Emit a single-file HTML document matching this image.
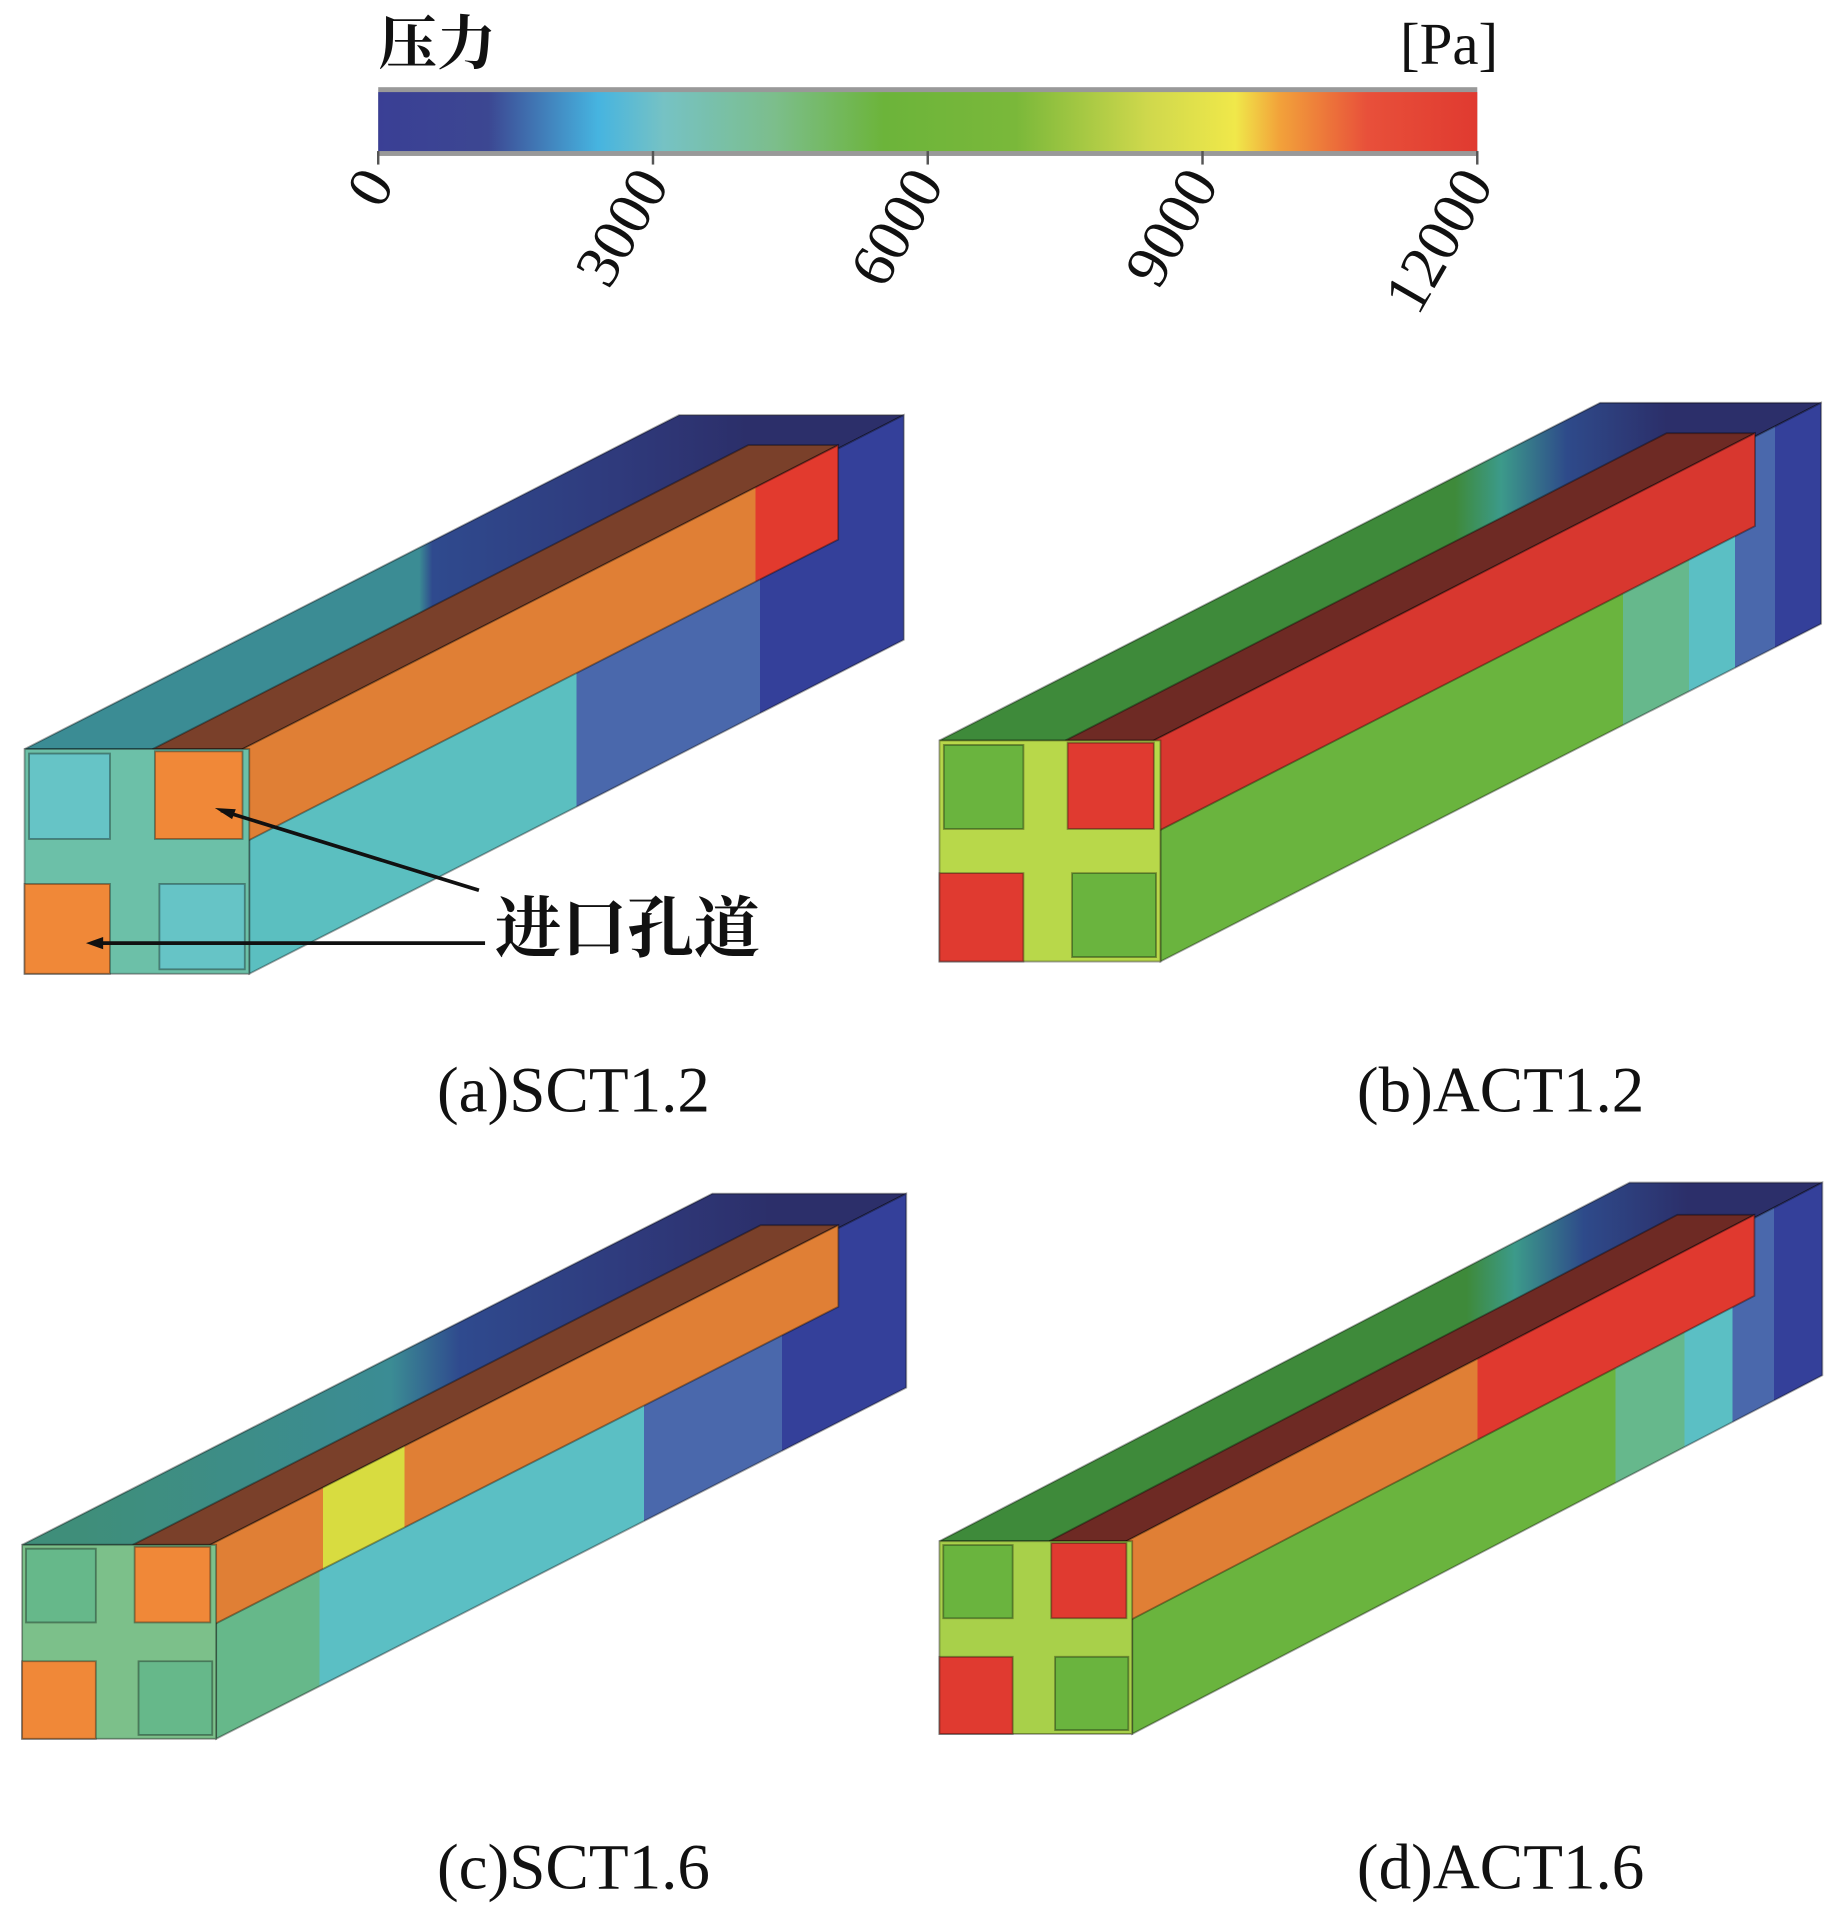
<!DOCTYPE html>
<html><head><meta charset="utf-8"><style>
html,body{margin:0;padding:0;background:#fff;}
svg{display:block;}
text{font-family:"Liberation Serif","Noto Serif CJK SC",serif;fill:#111;}
</style></head><body>
<svg id="fig" width="1842" height="1912" viewBox="0 0 1500 1557" preserveAspectRatio="none" xmlns="http://www.w3.org/2000/svg">
<defs>
<linearGradient id="cbar" x1="0" x2="1" y1="0" y2="0">
<stop offset="0" stop-color="#3a3f95"/><stop offset="0.1" stop-color="#3c4792"/>
<stop offset="0.2" stop-color="#46b4e0"/><stop offset="0.26" stop-color="#76c2c4"/>
<stop offset="0.36" stop-color="#7cbe8c"/><stop offset="0.46" stop-color="#6cb43a"/>
<stop offset="0.58" stop-color="#7ab83a"/><stop offset="0.7" stop-color="#cfd84c"/>
<stop offset="0.78" stop-color="#f0e84a"/><stop offset="0.82" stop-color="#f2a23a"/>
<stop offset="0.9" stop-color="#e8503a"/><stop offset="1" stop-color="#e03a30"/>
</linearGradient>
</defs>
<g id="colorbar">
<text x="308" y="52" font-size="48" font-weight="bold" font-family="Noto Serif CJK SC, serif">压力</text>
<text x="1220" y="52" font-size="48" text-anchor="end">[Pa]</text>
<rect x="308" y="71" width="895" height="56" fill="#999"/>
<rect x="308" y="75" width="895" height="48" fill="url(#cbar)"/>
</g>
<g id="ticks"></g>
<g id="panels"></g>
<g id="annot">
<line x1="390" y1="725" x2="180" y2="660" stroke="#111" stroke-width="3"/>
<polygon points="175,658 192,659 189,667" fill="#111"/>
<line x1="395" y1="768" x2="76" y2="768" stroke="#111" stroke-width="3"/>
<polygon points="70,768 84,763 84,773" fill="#111"/>
<text x="403" y="775" font-size="54" font-weight="bold" font-family="Noto Serif CJK SC, serif">进口孔道</text>
</g>
<text x="467" y="905" font-size="53" text-anchor="middle">(a)SCT1.2</text>
<text x="1222" y="905" font-size="53" text-anchor="middle">(b)ACT1.2</text>
<text x="467" y="1538" font-size="53" text-anchor="middle">(c)SCT1.6</text>
<text x="1222" y="1538" font-size="53" text-anchor="middle">(d)ACT1.6</text>
</svg>
<script>
const tickValues = [0, 3000, 6000, 9000, 12000];
const tickLabels = ["0", "3000", "6000", "9000", "12000"];
const cbMin = 0, cbMax = 12000;
const NS = "http://www.w3.org/2000/svg";
function cbX(v){ return 308 + (v - cbMin) / (cbMax - cbMin) * 895; }
const tg = document.getElementById('ticks');
tickValues.forEach((v,i)=>{
  const x = cbX(v);
  const l = document.createElementNS(NS,'line');
  
  
  l.setAttribute('x1',x); l.setAttribute('x2',x); l.setAttribute('y1',123); l.setAttribute('y2',134);
  l.setAttribute('stroke','#555'); l.setAttribute('stroke-width','2');
  tg.appendChild(l);
  const t = document.createElementNS(NS,'text');
  
  
  t.setAttribute('x',0); t.setAttribute('y',0);
  t.setAttribute('font-size','50'); t.setAttribute('text-anchor','end');
  t.setAttribute('transform','translate('+(x+14)+',150) rotate(-60)');
  t.textContent = tickLabels[i];
  tg.appendChild(t);
});
let gid = 0;
function grad(stops, xa, xb){
  const g = document.createElementNS(NS,'linearGradient');
  const id = 'g'+(gid++);
  g.setAttribute('id',id); g.setAttribute('gradientUnits','userSpaceOnUse');
  g.setAttribute('x1',xa); g.setAttribute('x2',xb); g.setAttribute('y1',0); g.setAttribute('y2',0);
  stops.forEach(s=>{const st=document.createElementNS(NS,'stop');st.setAttribute('offset',s[0]);st.setAttribute('stop-color',s[1]);g.appendChild(st);});
  document.querySelector('defs').appendChild(g);
  return 'url(#'+id+')';
}
function poly(parent, pts, fill, name){
  const p = document.createElementNS(NS,'polygon');
  
  
  p.setAttribute('points', pts.map(q=>q.join(',')).join(' '));
  p.setAttribute('fill', fill); p.setAttribute('stroke','rgba(0,0,0,0.35)'); p.setAttribute('stroke-width','1.5');
  parent.appendChild(p);
}
function hard(list){
  const out=[]; let s=0;
  list.forEach(([e,c])=>{out.push([s,c]);out.push([e,c]);s=e;});
  return out;
}
function panel(name,x0,y0,s,dx,dy,c){
  const g = document.createElementNS(NS,'g');
  
  
  document.getElementById('panels').appendChild(g);
  const P=(fx,fy,d)=>[x0+fx*s+dx*d, y0+fy*s+dy*d];
  poly(g,[P(0,0,0),P(1,0,0),P(1,0,1),P(0,0,1)], grad(c.top,x0+s*0.3,x0+s*0.3+dx), name+'-top-face');
  poly(g,[P(1,0,0),P(1,1,0),P(1,1,1),P(1,0,1)], grad(hard(c.right),x0+s,x0+s+dx), name+'-right-face');
  poly(g,[P(0.57,0,0),P(0.97,0,0),P(0.97,0,0.91),P(0.57,0,0.91)], c.bandTop, name+'-channel-top');
  poly(g,[P(0.97,0,0),P(0.97,0.42,0),P(0.97,0.42,0.91),P(0.97,0,0.91)], grad(hard(c.band),x0+s,x0+s+dx*0.91), name+'-inlet-channel');
  poly(g,[P(0,0,0),P(1,0,0),P(1,1,0),P(0,1,0)], c.cross, name+'-front-face');
  poly(g,[P(0.02,0.02,0),P(0.38,0.02,0),P(0.38,0.4,0),P(0.02,0.4,0)], c.front, name+'-outlet-ul');
  poly(g,[P(0.6,0.6,0),P(0.98,0.6,0),P(0.98,0.98,0),P(0.6,0.98,0)], c.front, name+'-outlet-lr');
  poly(g,[P(0.58,0.01,0),P(0.97,0.01,0),P(0.97,0.4,0),P(0.58,0.4,0)], c.inlet, name+'-inlet-ur');
  poly(g,[P(0,0.6,0),P(0.38,0.6,0),P(0.38,1,0),P(0,1,0)], c.inlet, name+'-inlet-ll');
}
panel('panel-a',20,610,183,533,-272,{
 top:[[0,'#3b8c94'],[0.5,'#3b8c94'],[0.52,'#2f4a8e'],[0.8,'#2f3a7c'],[1,'#2c2f6a']],
 right:[[0.5,'#5bbfc0'],[0.78,'#4a68ac'],[1,'#34409a']],
 band:[[0.85,'#e07f35'],[1,'#e23a2e']], bandTop:'#7a402a',
 cross:'#6cc0a8', front:'#66c4c6', inlet:'#f08838'});
panel('panel-b',765,603,180,538,-275,{
 top:[[0,'#3e8a3a'],[0.68,'#3e8a3a'],[0.75,'#3c9a8a'],[0.85,'#2e4a8a'],[1,'#2c2f6a']],
 right:[[0.7,'#6ab43e'],[0.8,'#66b88c'],[0.87,'#5bbfc4'],[0.93,'#4a68ac'],[1,'#34409a']],
 band:[[1,'#d8372f']], bandTop:'#6e2a24',
 cross:'#b8d84a', front:'#6ab43e', inlet:'#e03a30'});
panel('panel-c',18,1258,158,562,-286,{
 top:[[0,'#3f8e7a'],[0.45,'#3b8c94'],[0.55,'#2f4a8e'],[0.8,'#2f3a7c'],[1,'#2c2f6a']],
 right:[[0.15,'#66b88a'],[0.62,'#5bbfc4'],[0.82,'#4a68ac'],[1,'#34409a']],
 band:[[0.17,'#e07f35'],[0.3,'#d8dc40'],[1,'#e07f35']], bandTop:'#7a402a',
 cross:'#7cc08a', front:'#66b88a', inlet:'#f08838'});
panel('panel-d',765,1255,157,562,-292,{
 top:[[0,'#3e8a3a'],[0.68,'#3e8a3a'],[0.75,'#3c9a8a'],[0.85,'#2e4a8a'],[1,'#2c2f6a']],
 right:[[0.7,'#6ab43e'],[0.8,'#66b88c'],[0.87,'#5bbfc4'],[0.93,'#4a68ac'],[1,'#34409a']],
 band:[[0.55,'#e07f35'],[1,'#e0392f']], bandTop:'#6e2a24',
 cross:'#a8d04a', front:'#6ab43e', inlet:'#e03a30'});
</script>
</body></html>
